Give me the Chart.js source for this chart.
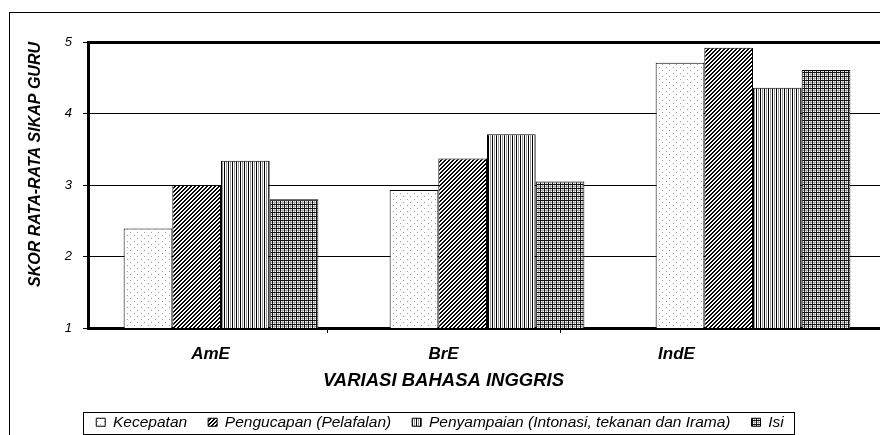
<!DOCTYPE html>
<html><head><meta charset="utf-8">
<script src="https://cdn.jsdelivr.net/npm/chart.js@4.4.1/dist/chart.umd.min.js"></script>
<style>
html,body{margin:0;padding:0;background:#fff;overflow:hidden;width:880px;height:435px;}
#wrap{position:relative;width:880px;height:435px;overflow:hidden;background:#fff;}
#frame{position:absolute;left:9px;top:12px;width:900px;height:500px;border-left:1px solid #000;border-top:1px solid #000;}
#c1{position:absolute;left:0;top:0;}
#c2{position:absolute;left:40px;top:300px;}
</style></head><body>
<div id="wrap"><div id="frame"></div>
<canvas id="c1" width="890" height="435"></canvas>
<canvas id="c2" width="800" height="140"></canvas></div>
<script>
const categories = ['AmE', 'BrE', 'IndE'];
const seriesNames = ['Kecepatan', 'Pengucapan (Pelafalan)', 'Penyampaian (Intonasi, tekanan dan Irama)', 'Isi'];
const kecepatan = [2.39, 2.93, 4.71];
const pengucapan = [3.00, 3.37, 4.92];
const penyampaian = [3.34, 3.71, 4.36];
const isi = [2.80, 3.05, 4.61];
const yTicks = [1, 2, 3, 4, 5];
const yTitle = 'SKOR RATA-RATA SIKAP GURU';
const xTitle = 'VARIASI BAHASA INGGRIS';

const FAM = "'Liberation Sans', Arial, sans-serif";
Chart.defaults.font.family = FAM;

function makePattern(w, h, fn) {
  const c = document.createElement('canvas');
  c.width = w; c.height = h;
  const ctx = c.getContext('2d');
  const img = ctx.createImageData(w, h);
  for (let y = 0; y < h; y++) for (let x = 0; x < w; x++) {
    const v = fn(x, y); const k = (y * w + x) * 4;
    img.data[k] = v; img.data[k + 1] = v; img.data[k + 2] = v; img.data[k + 3] = 255;
  }
  ctx.putImageData(img, 0, 0);
  return ctx.createPattern(c, 'repeat');
}
const patterns = [
  makePattern(7, 6, (x, y) => ((x === 1 && y === 1) || (x === 4 && y === 4)) ? 150 : 255),
  makePattern(4, 4, (x, y) => ((x + y) % 4 < 2) ? 0 : 255),
  makePattern(4, 1, (x) => x === 0 ? 0 : (x === 2 ? 150 : 255)),
  makePattern(4, 4, (x, y) => (x === 0 || y === 0) ? 20 : ((x === 2 || y === 2) ? 170 : 255))
];
const seriesData = [kecepatan, pengucapan, penyampaian, isi];

new Chart(document.getElementById('c1'), {
  type: 'bar',
  data: {
    labels: categories,
    datasets: seriesNames.map((n, i) => ({
      label: n, data: seriesData[i], backgroundColor: patterns[i],
      borderColor: '#000', borderWidth: 1,
      categoryPercentage: 0.732, barPercentage: 1
    }))
  },
  options: {
    responsive: false, animation: false, devicePixelRatio: 1,
    layout: { padding: { top: 42, right: 4, bottom: 107, left: 0 } },
    plugins: { legend: { display: false }, tooltip: { enabled: false } },
    scales: {
      x: {
        z: 1,
        afterFit(s) { s.height = 0; },
        ticks: { display: false },
        grid: { display: false },
        border: { display: true, width: 3, color: '#000' }
      },
      y: {
        min: 1, max: 5,
        afterFit(s) { s.width = 88; },
        afterBuildTicks(s) { s.ticks = yTicks.map(v => ({ value: v })); },
        ticks: { font: { size: 13, style: 'italic' }, color: '#000', padding: 11 },
        grid: {
          color: '#000',
          lineWidth: c => (c.tick && c.tick.value === 5) ? 3 : 1,
          tickLength: 5, tickWidth: 1, tickColor: '#000'
        },
        border: { display: true, width: 3, color: '#000' },
        title: {
          display: true, text: yTitle, align: 'end', color: '#000',
          font: { size: 16, weight: 'bold', style: 'italic' },
          padding: { top: 26, bottom: 0 }
        }
      }
    }
  }
});

const legendBox = {
  id: 'legendBox',
  afterDraw(chart) {
    const hb = chart.legend && chart.legend.legendHitBoxes;
    if (!hb || !hb.length) return;
    let l = Infinity, r = -Infinity, t = Infinity, b = -Infinity;
    hb.forEach(h => { l = Math.min(l, h.left); r = Math.max(r, h.left + h.width); t = Math.min(t, h.top); b = Math.max(b, h.top + h.height); });
    const ctx = chart.ctx;
    ctx.save();
    ctx.strokeStyle = '#000'; ctx.lineWidth = 1;
    ctx.strokeRect(Math.round(l - 13) + 0.5, Math.round(t - 3) + 0.5, Math.round(r - l + 23), Math.round(b - t + 6));
    ctx.restore();
  }
};

const hiddenAxis = (pos, w) => ({
  display: true, position: pos,
  afterFit(s) { s.width = w; },
  ticks: { display: false }, grid: { display: false }, border: { display: false }
});

new Chart(document.getElementById('c2'), {
  type: 'bar',
  data: {
    labels: categories,
    datasets: seriesNames.map((n, i) => ({
      label: n, data: [], backgroundColor: patterns[i], borderColor: '#000', borderWidth: 1
    }))
  },
  options: {
    responsive: false, animation: false, devicePixelRatio: 1,
    layout: { padding: 0 },
    plugins: {
      tooltip: { enabled: false },
      legend: {
        position: 'bottom',
        labels: { boxWidth: 9, boxHeight: 8, color: '#000', padding: 21, font: { size: 15.5, style: 'italic' } }
      }
    },
    scales: {
      y: hiddenAxis('left', 54),
      y2: hiddenAxis('right', 47),
      x: {
        afterFit(s) { s.height = 66.5; },
        ticks: { font: { size: 17, weight: 'bold', style: 'italic' }, color: '#000', padding: 11 },
        grid: {
          drawOnChartArea: false, offset: true, tickLength: 6,
          tickColor: c => (c.index === 1 || c.index === 2) ? '#000' : 'rgba(0,0,0,0)'
        },
        border: { display: false },
        title: {
          display: true, text: xTitle, color: '#000',
          font: { size: 18.5, weight: 'bold', style: 'italic' },
          padding: { top: 4, bottom: 1 }
        }
      }
    }
  },
  plugins: [legendBox]
});
</script>
</body></html>
